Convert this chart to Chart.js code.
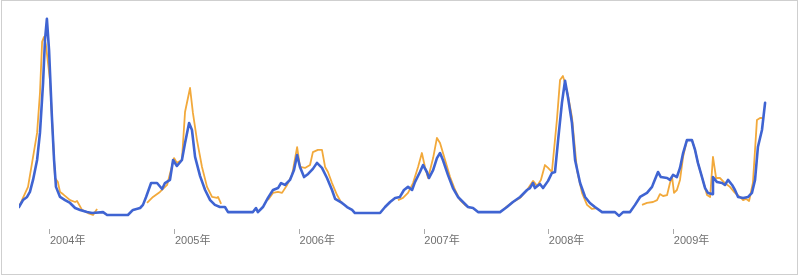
<!DOCTYPE html>
<html>
<head>
<meta charset="utf-8">
<script src="https://cdn.jsdelivr.net/npm/chart.js@4/dist/chart.umd.min.js"></script>
<style>
  html, body { margin: 0; padding: 0; background: #fff; }
  #wrap { width: 800px; height: 276px; position: relative; }
</style>
</head>
<body>
<div id="wrap"><canvas id="c" width="800" height="276"></canvas></div>
<script>
// x = weeks since 2004-01-01, y = ILI level (arbitrary %-like units)
const yearTickWeeks = [0, 52.3, 104.4, 156.6, 208.7, 261];
const yearLabels = ["2004年", "2005年", "2006年", "2007年", "2008年", "2009年"];

// Google Flu Trends estimate (blue)
const googleWeeks = [-13.0,-11.3,-9.6,-8.4,-7.1,-5.4,-4.2,-2.9,-2.1,-1.3,-0.4,0.8,1.7,2.5,4.2,6.3,8.4,10.5,12.6,15.5,17.6,22.2,23.9,32.6,34.7,37.7,38.9,40.2,42.3,44.8,46.9,48.1,50.2,51.5,53.1,55.2,56.5,58.2,59.4,60.7,62.8,64.9,67.0,69.0,71.1,73.2,74.5,84.9,86.2,87.0,89.1,91.2,93.3,95.4,96.7,98.3,100.4,102.1,103.4,104.6,106.3,108.0,110.0,111.7,113.8,115.9,118.0,119.3,122.2,124.3,126.4,127.6,138.1,140.2,142.3,144.4,146.4,148.1,149.8,151.5,152.7,154.8,156.1,157.7,158.6,160.3,161.9,163.2,164.4,166.5,168.6,170.7,172.8,174.9,177.0,179.1,188.3,191.2,193.7,196.7,199.6,200.8,202.1,202.9,205.0,206.3,208.4,210.0,211.3,212.6,214.2,215.5,216.7,218.4,219.7,221.8,223.9,225.9,228.0,231.0,236.4,238.1,239.8,242.7,244.8,246.9,249.8,251.9,252.7,254.4,255.6,258.2,259.4,260.7,262.3,263.6,264.9,266.5,268.6,269.9,271.1,272.8,274.1,275.3,277.0,277.4,279.1,281.2,282.4,283.7,285.4,286.6,287.9,290.0,292.1,293.7,295.0,296.2,297.9,299.2];
const googleValues = [1.04,1.33,1.46,1.67,2.17,3.0,4.13,6.21,8.0,8.88,7.58,4.79,3.0,1.88,1.46,1.33,1.21,1.0,0.92,0.83,0.79,0.83,0.71,0.71,0.92,1.0,1.13,1.46,2.04,2.04,1.79,2.04,2.17,3.0,2.75,3.0,3.71,4.54,4.25,3.13,2.33,1.75,1.33,1.13,1.04,1.04,0.83,0.83,1.0,0.83,1.04,1.42,1.75,1.83,2.04,1.96,2.17,2.58,3.21,2.71,2.29,2.42,2.63,2.88,2.67,2.25,1.75,1.38,1.21,1.04,0.92,0.79,0.79,1.04,1.25,1.42,1.46,1.75,1.88,1.75,2.08,2.5,2.79,2.5,2.25,2.58,3.08,3.29,3.0,2.38,1.83,1.46,1.25,1.04,1.0,0.83,0.83,1.04,1.25,1.46,1.75,1.83,2.04,1.83,2.0,1.83,2.13,2.46,2.5,3.83,5.38,6.3,5.63,4.54,3.0,2.04,1.46,1.21,1.04,0.83,0.83,0.67,0.83,0.83,1.13,1.46,1.63,1.88,2.08,2.5,2.29,2.25,2.17,2.38,2.29,2.67,3.29,3.83,3.83,3.42,2.88,2.29,1.83,1.63,1.58,2.29,2.08,2.04,1.96,2.17,1.96,1.75,1.46,1.42,1.46,1.63,2.17,3.54,4.25,5.38];

// CDC reported data (orange), null = no report
const cdcWeeks = [-13.0,-11.3,-9.2,-7.5,-5.4,-4.2,-3.3,-2.5,-1.7,0.0,1.3,2.1,3.3,4.2,5.4,8.4,10.5,11.3,13.4,15.9,18.0,19.7,30,40.6,43.1,46.0,49.0,51.9,53.1,55.2,56.5,58.6,59.8,61.5,63.6,65.7,67.8,69.9,70.3,71.6,80,91.2,93.3,95.4,97.1,99.2,101.3,103.4,104.6,106.7,108.8,110.0,112.1,113.8,115.1,116.3,118.0,120.1,122.2,135,145.6,147.7,149.8,151.9,154.0,155.6,156.9,158.2,160.3,161.9,163.2,165.3,167.4,169.5,171.6,173.6,175.7,185,190.4,193.7,196.7,199.6,202.1,203.8,205.4,207.1,208.4,210.0,212.1,213.4,214.6,215.5,216.7,218.4,220.5,222.6,224.7,226.8,228.9,240,247.7,249.8,252.3,254.0,255.2,256.5,258.2,259.4,260.3,261.1,262.3,263.6,264.9,266.5,268.6,269.9,271.1,272.8,274.1,274.9,276.2,277.4,278.7,280.3,282.4,284.5,286.6,288.7,290.0,291.2,292.5,294.1,295.8,297.1,297.9];
const cdcValues = [1.04,1.42,1.88,2.88,4.13,5.79,7.92,8.13,7.79,6.33,3.83,2.25,2.08,1.67,1.58,1.33,1.25,1.29,0.92,0.79,0.71,0.96,null,1.21,1.46,1.67,1.96,3.08,2.88,3.0,5.0,6.0,4.96,3.83,2.71,1.88,1.46,1.42,1.46,1.17,null,1.33,1.63,1.67,1.63,1.96,2.38,3.54,2.71,2.67,2.79,3.33,3.42,3.42,2.71,2.5,2.04,1.54,1.17,null,1.33,1.42,1.63,2.04,2.71,3.29,2.71,2.25,3.08,3.92,3.71,3.0,2.29,1.75,1.33,1.13,1.0,null,1.0,1.25,1.42,1.75,2.13,1.92,2.17,2.79,2.67,2.5,4.67,6.33,6.5,6.21,5.71,4.79,2.58,1.63,1.13,0.96,1.0,null,1.13,1.21,1.25,1.33,1.58,1.5,1.54,2.04,2.29,1.63,1.75,2.17,3.13,3.83,3.83,3.42,2.88,2.29,1.83,1.54,1.46,3.13,2.25,2.25,2.04,1.88,1.63,1.46,1.33,1.38,1.29,2.04,4.67,4.75,4.75];

const toPoints = (xs, ys) => xs.map((x, i) => ({ x: x, y: ys[i] }));

const framePlugin = {
  id: 'frame',
  afterDraw(chart) {
    const ctx = chart.ctx;
    ctx.save();
    ctx.strokeStyle = '#cfcfcf';
    ctx.lineWidth = 1;
    ctx.strokeRect(1.5, 0.5, 796, 274);
    ctx.restore();
  }
};

new Chart(document.getElementById('c'), {
  type: 'line',
  data: {
    datasets: [
      {
        label: 'Google Flu Trends',
        data: toPoints(googleWeeks, googleValues),
        borderColor: '#3f64d2',
        borderWidth: 2.6,
        pointRadius: 0,
        tension: 0,
        borderJoinStyle: 'round',
        borderCapStyle: 'round',
        fill: false
      },
      {
        label: 'CDC',
        data: toPoints(cdcWeeks, cdcValues),
        borderColor: '#f2a93b',
        borderWidth: 1.8,
        pointRadius: 0,
        tension: 0,
        spanGaps: false,
        borderJoinStyle: 'round',
        fill: false
      }
    ]
  },
  options: {
    responsive: false,
    animation: false,
    events: [],
    layout: { padding: { left: 19, right: 30, top: 16, bottom: 0 } },
    plugins: { legend: { display: false }, tooltip: { enabled: false } },
    scales: {
      x: {
        type: 'linear',
        min: -12.97,
        max: 301.26,
        afterFit: (s) => { s.height = 47; },
        afterBuildTicks: (s) => { s.ticks = yearTickWeeks.map(v => ({ value: v })); },
        border: { display: false },
        grid: { drawOnChartArea: false, drawTicks: true, tickLength: 5, color: '#aaaaaa', lineWidth: 1 },
        ticks: {
          align: 'start',
          maxRotation: 0,
          autoSkip: false,
          padding: 0,
          color: '#707070',
          font: { size: 11, family: "'Liberation Sans', 'Noto Sans CJK JP', sans-serif" },
          callback: (v, i) => yearLabels[i]
        }
      },
      y: {
        display: false,
        min: 0.125,
        max: 9.0
      }
    }
  },
  plugins: [framePlugin]
});
</script>
</body>
</html>
